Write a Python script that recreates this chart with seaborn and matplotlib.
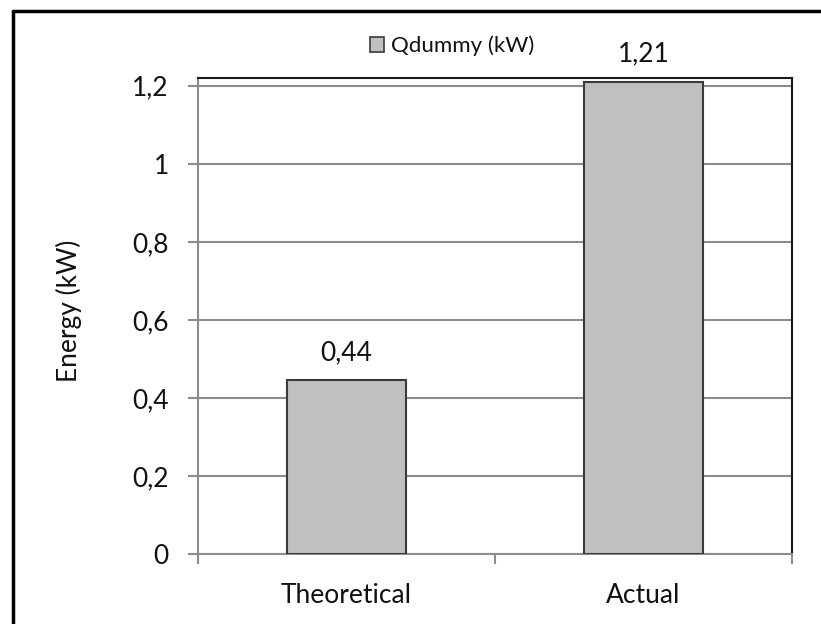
import matplotlib
matplotlib.use("Agg")
import matplotlib.pyplot as plt
import seaborn as sns
import pandas as pd
from matplotlib.lines import Line2D
from matplotlib.patches import Patch

categories = ["Theoretical", "Actual"]
values = [0.445, 1.21]
value_labels = ["0,44", "1,21"]
series_name = "Qdummy (kW)"
y_ticks = [0, 0.2, 0.4, 0.6, 0.8, 1.0, 1.2]
y_tick_labels = ["0", "0,2", "0,4", "0,6", "0,8", "1", "1,2"]
y_label = "Energy (kW)"

sns.set_theme(style="white")
plt.rcParams['font.family'] = ['Lato', 'DejaVu Sans']

df = pd.DataFrame({"cat": categories, "val": values})

fig = plt.figure(figsize=(8.21, 6.24), dpi=100)
ax = fig.add_axes([198/821, 1 - 554/624, (792-198)/821, (554-78)/624])

grid_c = "#8c8c8c"
ax.set_ylim(0, 1.22)
ax.set_yticks(y_ticks)
ax.set_yticklabels(y_tick_labels)
ax.yaxis.grid(True, color=grid_c, linewidth=1.5, zorder=0)
ax.set_axisbelow(True)

sns.barplot(data=df, x="cat", y="val", ax=ax, color="#c0c0c0",
            edgecolor="#3a3a3a", linewidth=1.5, width=0.4, saturation=1, zorder=3)
ax.set_xlim(-0.5, 1.5)

ax.bar_label(ax.containers[0], labels=value_labels, padding=11,
             fontsize=19, color="#111111")

ax.set_xlabel("")
ax.set_ylabel(y_label, fontsize=19, color="#111111")
ax.yaxis.set_label_coords(-0.195, 0.51)

ax.tick_params(axis="y", which="major", length=7, width=1.5, color=grid_c,
               pad=14, labelsize=19, labelcolor="#111111", left=True)
ax.tick_params(axis="x", which="major", length=0, pad=21, labelsize=19,
               labelcolor="#111111")
ax.set_xticks([-0.5, 0.5, 1.5], minor=True)
ax.tick_params(axis="x", which="minor", length=7, width=1.5, color=grid_c,
               bottom=True)

for s in ["left", "bottom"]:
    ax.spines[s].set_color(grid_c)
    ax.spines[s].set_linewidth(1.5)
for s in ["top", "right"]:
    ax.spines[s].set_color("#1a1a1a")
    ax.spines[s].set_linewidth(1.5)
    ax.spines[s].set_visible(True)

handle = Patch(facecolor="#c0c0c0", edgecolor="#3a3a3a", linewidth=1.2)
fig.legend([handle], [series_name], loc="center",
           bbox_to_anchor=(452/821, 1 - 46/624), frameon=False,
           handlelength=0.65, handleheight=0.65, handletextpad=0.3,
           fontsize=16, labelcolor="#111111")

fig.add_artist(Line2D([13/821, 13/821], [1 - 11/624, 0], transform=fig.transFigure,
                      color="black", linewidth=2.5))
fig.add_artist(Line2D([13/821, 1], [1 - 11/624, 1 - 11/624], transform=fig.transFigure,
                      color="black", linewidth=2.5))

fig.savefig("out.png", dpi=100)
